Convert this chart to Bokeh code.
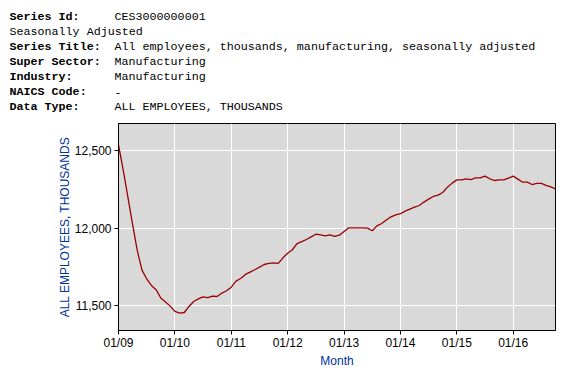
from bokeh.plotting import figure
from bokeh.layouts import column
from bokeh.models import FixedTicker, NumeralTickFormatter, Range1d
from bokeh.core.properties import value
from bokeh.embed import file_html
from bokeh.resources import INLINE

# ---- header text ----
header_labels = ["Series Id:", "", "Series Title:", "Super Sector:", "Industry:", "NAICS Code:", "Data Type:"]
header_values = ["CES3000000001", "", "All employees, thousands, manufacturing, seasonally adjusted",
                 "Manufacturing", "Manufacturing", "-", "ALL EMPLOYEES, THOUSANDS"]
seasonal_note = "Seasonally Adjusted"

# ---- data: monthly, Jan 2009 .. Oct 2016 ----
month_index = list(range(94))
employment = [12537, 12375, 12200, 12025, 11855, 11730, 11674, 11631, 11604, 11550, 11524, 11498,
              11464, 11453, 11457, 11496, 11528, 11545, 11558, 11552, 11562, 11560, 11582, 11597,
              11620, 11659, 11676, 11702, 11717, 11732, 11749, 11766, 11773, 11777, 11773, 11809,
              11839, 11861, 11900, 11913, 11927, 11944, 11961, 11957, 11951, 11957, 11947, 11955,
              11979, 12002, 12002, 12002, 12002, 12000, 11983, 12015, 12030, 12052, 12073, 12086,
              12093, 12110, 12123, 12135, 12146, 12168, 12187, 12204, 12213, 12230, 12264, 12290,
              12311, 12311, 12318, 12313, 12324, 12324, 12335, 12318, 12307, 12311, 12311, 12322,
              12335, 12316, 12296, 12296, 12281, 12288, 12288, 12275, 12266, 12253]

x_tick_positions = [0, 12, 24, 36, 48, 60, 72, 84]
x_tick_labels = ["01/09", "01/10", "01/11", "01/12", "01/13", "01/14", "01/15", "01/16"]
y_ticks = [11500, 12000, 12500]

y_label = "ALL EMPLOYEES, THOUSANDS"
x_label = "Month"

W = 565
HEAD_H = 122
FL, FR, FT, FB = 118, 10, 1, 44
FW, FH = 437, 207

# ---------- header figure (pixel coordinates, y downward) ----------
hdr = figure(frame_width=W, frame_height=HEAD_H, output_backend="svg", toolbar_location=None,
             x_range=Range1d(0, W), y_range=Range1d(HEAD_H, 0),
             min_border_left=0, min_border_right=0, min_border_top=0, min_border_bottom=0)
hdr.frame_align = False
hdr.axis.visible = False
hdr.grid.visible = False
hdr.outline_line_color = None
hdr.background_fill_color = "white"
hdr.border_fill_color = "white"

line_y = [16.5, 31.5, 46.5, 61.5, 76.5, 91.5, 106.5]
lab_y = [line_y[i] for i in range(len(header_labels)) if header_labels[i]]
lab_t = [t for t in header_labels if t]
val_y = [line_y[i] for i in range(len(header_values)) if header_values[i]]
val_t = [t for t in header_values if t]

mono = value("Liberation Mono")
hdr.text(x=[9] * len(lab_t), y=lab_y, text=lab_t, text_font=mono, text_font_size="11.7px",
         text_font_style="bold", text_baseline="middle", text_color="black")
hdr.text(x=[114] * len(val_t), y=val_y, text=val_t, text_font=mono, text_font_size="11.7px",
         text_baseline="middle", text_color="black")
hdr.text(x=[9], y=[line_y[1]], text=[seasonal_note], text_font=mono, text_font_size="11.7px",
         text_baseline="middle", text_color="black")

# ---------- chart figure ----------
p = figure(frame_width=FW, frame_height=FH, output_backend="svg", toolbar_location=None,
           min_border_left=FL, min_border_right=FR, min_border_top=FT, min_border_bottom=FB,
           x_range=Range1d(0, 93), y_range=Range1d(11341, 12674))
p.frame_align = False

p.background_fill_color = "#D9D9D9"
p.border_fill_color = "white"
p.outline_line_color = "black"
p.outline_line_width = 1

p.line(month_index, employment, line_color="#9B0000", line_width=1.3)

for ax in (p.xaxis[0], p.yaxis[0]):
    ax.axis_line_color = "black"
    ax.major_tick_line_color = "black"
    ax.major_tick_out = 4
    ax.major_tick_in = 0
    ax.minor_tick_line_color = None
    ax.major_label_text_font = "Liberation Sans"
    ax.major_label_text_font_size = "12px"
    ax.major_label_text_color = "black"
    ax.axis_label_text_font = "Liberation Sans"
    ax.axis_label_text_font_size = "12px"
    ax.axis_label_text_font_style = "normal"
    ax.axis_label_text_color = "#003399"

p.xaxis.ticker = FixedTicker(ticks=x_tick_positions)
p.xaxis.major_label_overrides = dict(zip(x_tick_positions, x_tick_labels))
p.xaxis.axis_label = x_label
p.xaxis.major_label_standoff = 1
p.xaxis.axis_label_standoff = 1

p.yaxis.ticker = FixedTicker(ticks=y_ticks)
p.yaxis.formatter = NumeralTickFormatter(format="0,0")
p.yaxis.axis_label = y_label
p.yaxis.major_label_standoff = 3
p.yaxis.axis_label_standoff = 0

p.xgrid.grid_line_color = "white"
p.ygrid.grid_line_color = "white"
p.xgrid.grid_line_width = 1
p.ygrid.grid_line_width = 1

layout = column(hdr, p, spacing=0)
open("out.html", "w").write(file_html(layout, INLINE))
